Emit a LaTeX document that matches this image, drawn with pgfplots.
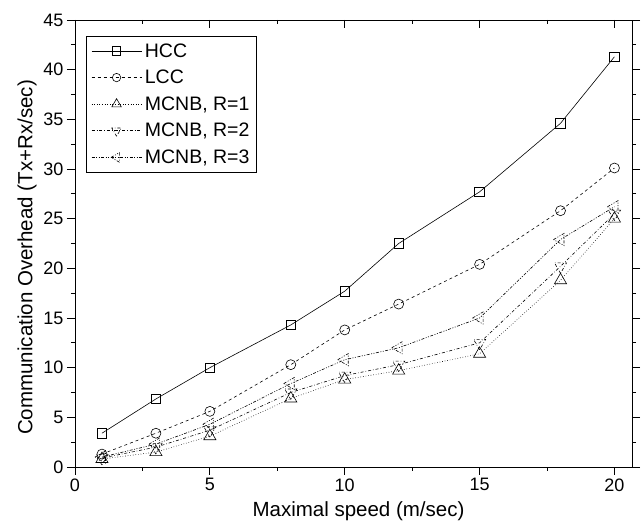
\documentclass[border=0pt]{standalone}
\usepackage{pgfplots}
\pgfplotsset{compat=1.18}
\usepackage{fontspec}
\setmainfont{Liberation Sans}
\begin{document}
\begin{tikzpicture}
\path (-75pt,-65pt) rectangle (566pt,467pt);
\begin{axis}[
  at={(0pt,0pt)}, anchor=south west,
  scale only axis, width=557pt, height=447pt,
  xmin=0, xmax=20.65, ymin=0, ymax=45,
  xtick={0,5,10,15,20}, ytick={0,5,...,45},
  minor xtick={2.5,7.5,12.5,17.5}, minor ytick={2.5,7.5,...,42.5},
  tick align=outside, xtick pos=bottom, ytick pos=both,
  major tick length=8pt, minor tick length=4pt,
  tick style={black, line width=0.8pt},
  axis line style={line width=0.8pt},
  /pgf/number format/assume math mode=true,
  ticklabel style={font=\fontsize{18}{21}\selectfont},
  label style={font=\fontsize{20.5}{24}\selectfont},
  xlabel={Maximal speed (m/sec)},
  ylabel={Communication Overhead (Tx+Rx/sec)},
  xlabel style={xshift=5pt, yshift=-4pt},
  ylabel style={xshift=-14pt},
  legend style={at={(0.0197,0.964)}, anchor=north west, draw=black, line width=0.6pt,
    font=\fontsize{19.5}{22}\selectfont, row sep=7.5pt, inner xsep=5pt, inner ysep=5pt,
    /tikz/every odd column/.append style={column sep=1pt}},
  legend cell align=left,
  legend image code/.code={
    \draw[mark repeat=2, mark phase=2] plot coordinates {(0pt,0pt) (25pt,0pt) (50pt,0pt)};
  },
  every axis plot/.append style={black, line width=0.6pt, mark options={solid, fill=white}},
]
\addplot[solid, mark=square, mark size=4.8pt, legend image post style={mark size=4.2pt}] coordinates {
(1,3.4) (3,6.85) (5,10.0) (8,14.3) (10,17.7) (12,22.5) (15,27.7) (18,34.6) (20,41.3)};
\addlegendentry{HCC}
\addplot[dashed, mark=o, mark size=5pt, legend image post style={mark size=4.2pt}] coordinates {
(1,1.3) (3,3.4) (5,5.6) (8,10.3) (10,13.8) (12,16.4) (15,20.4) (18,25.8) (20,30.1)};
\addlegendentry{LCC}
\addplot[dotted, mark=triangle, mark size=7pt, legend image post style={mark size=5.5pt}] coordinates {
(1,0.8) (3,1.5) (5,3.1) (8,6.9) (10,8.8) (12,9.7) (15,11.4) (18,18.8) (20,25.0)};
\addlegendentry{MCNB, R=1}
\addplot[dash dot, mark=triangle, mark options={rotate=180}, mark size=7pt, legend image post style={mark size=5.5pt}] coordinates {
(1,0.9) (3,2.0) (5,3.7) (8,7.5) (10,9.2) (12,10.3) (15,12.5) (18,20.2) (20,25.5)};
\addlegendentry{MCNB, R=2}
\addplot[dash pattern=on 3pt off 1.5pt on 1pt off 1.5pt on 1pt off 1.5pt, mark=triangle, mark options={rotate=90}, mark size=7pt, legend image post style={mark size=5.5pt}] coordinates {
(1,1.0) (3,2.3) (5,4.3) (8,8.4) (10,10.8) (12,12.0) (15,15.0) (18,22.9) (20,26.2)};
\addlegendentry{MCNB, R=3}
\end{axis}
\begin{axis}[
  at={(0pt,0pt)}, anchor=south west,
  scale only axis, width=557pt, height=447pt,
  xmin=0, xmax=20.65, ymin=0, ymax=45,
  xtick={0,5,10,15,20}, minor xtick={2.5,7.5,12.5,17.5}, ytick=\empty,
  tick align=inside, xtick pos=top, xticklabels={},
  major tick length=8pt, minor tick length=4pt,
  tick style={black, line width=0.8pt},
  axis line style={line width=0.8pt},
]
\end{axis}
\end{tikzpicture}
\end{document}
